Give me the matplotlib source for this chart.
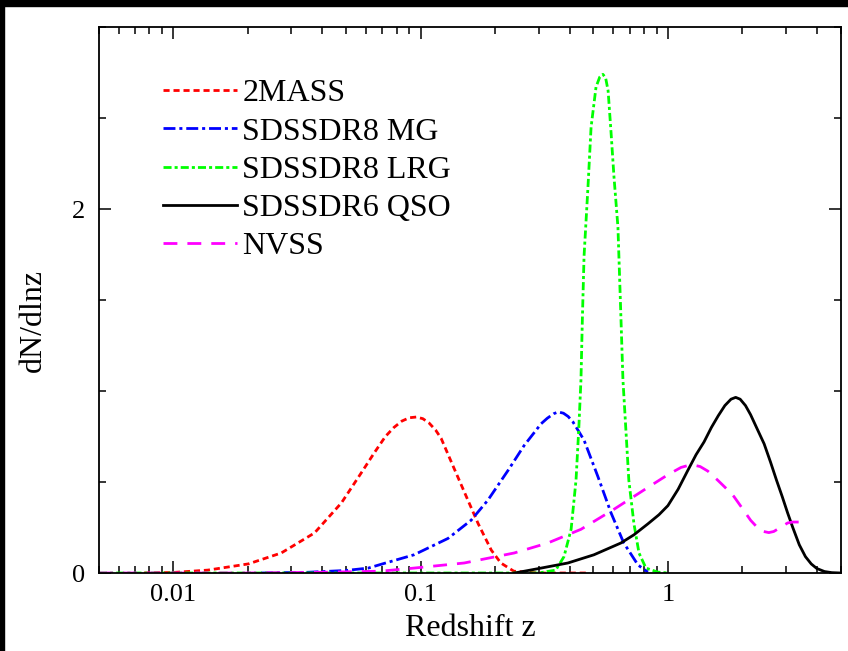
import matplotlib
matplotlib.use("Agg")
import matplotlib.pyplot as plt
from matplotlib.patches import Rectangle
from matplotlib.ticker import LogLocator, MultipleLocator, FixedLocator

plt.rcParams['font.family'] = ['Liberation Serif', 'DejaVu Serif']

# redshift distributions dN/dlnz of the tracer surveys
z_2mass = [0.0076, 0.010, 0.0138, 0.0201, 0.0273, 0.0372, 0.0478, 0.0575, 0.0649,
           0.072, 0.078, 0.084, 0.090, 0.096, 0.102, 0.108, 0.115, 0.121, 0.136,
           0.153, 0.171, 0.193, 0.211, 0.238, 0.30, 0.47]
n_2mass = [0.0, 0.003, 0.016, 0.05, 0.11, 0.22, 0.385, 0.55, 0.66,
           0.75, 0.80, 0.835, 0.853, 0.857, 0.848, 0.825, 0.785, 0.74, 0.58,
           0.42, 0.27, 0.126, 0.055, 0.01, 0.0, 0.0]

z_mg = [0.0226, 0.035, 0.050, 0.0614, 0.0713, 0.094, 0.129, 0.160, 0.187, 0.226,
        0.262, 0.307, 0.325, 0.345, 0.360, 0.378, 0.395, 0.413, 0.458, 0.521,
        0.589, 0.663, 0.757, 0.83]
n_mg = [0.0, 0.004, 0.014, 0.027, 0.053, 0.10, 0.19, 0.29, 0.40, 0.565,
        0.70, 0.82, 0.85, 0.875, 0.885, 0.878, 0.86, 0.83, 0.73, 0.53,
        0.33, 0.165, 0.044, 0.005]

z_lrg = [0.005, 0.30, 0.352, 0.380, 0.406, 0.425, 0.436, 0.445, 0.451, 0.458,
         0.475, 0.489, 0.512, 0.530, 0.546, 0.560, 0.573, 0.589, 0.605, 0.628,
         0.643, 0.658, 0.676, 0.695, 0.729, 0.764, 0.815, 0.91, 1.0]
n_lrg = [0.0, 0.0, 0.016, 0.09, 0.24, 0.51, 0.79, 1.06, 1.40, 1.74,
         2.12, 2.45, 2.67, 2.725, 2.74, 2.72, 2.65, 2.42, 2.18, 1.90,
         1.48, 1.06, 0.79, 0.51, 0.27, 0.11, 0.027, 0.005, 0.0]

z_qso = [0.24, 0.307, 0.394, 0.502, 0.646, 0.729, 0.830, 0.92, 1.0, 1.10,
         1.20, 1.30, 1.40, 1.50, 1.60, 1.70, 1.80, 1.88, 1.96, 2.06,
         2.16, 2.30, 2.45, 2.60, 2.75, 2.90, 3.05, 3.20, 3.40, 3.60,
         3.80, 4.0, 4.3, 4.6, 5.0]
n_qso = [0.0, 0.027, 0.055, 0.10, 0.165, 0.21, 0.27, 0.32, 0.37, 0.46,
         0.56, 0.65, 0.72, 0.80, 0.865, 0.92, 0.955, 0.965, 0.955, 0.92,
         0.87, 0.79, 0.71, 0.61, 0.51, 0.42, 0.33, 0.25, 0.155, 0.09,
         0.05, 0.025, 0.008, 0.002, 0.0]

z_nvss = [0.005, 0.02, 0.04, 0.069, 0.094, 0.150, 0.239, 0.327, 0.445, 0.605,
          0.83, 1.0, 1.13, 1.20, 1.27, 1.35, 1.45, 1.59, 1.75, 1.85,
          2.0, 2.16, 2.30, 2.44, 2.56, 2.68, 2.85, 3.05, 3.20, 3.38]
n_nvss = [0.0, 0.0, 0.004, 0.01, 0.027, 0.055, 0.11, 0.165, 0.24, 0.35,
          0.47, 0.54, 0.58, 0.59, 0.593, 0.585, 0.56, 0.51, 0.455, 0.42,
          0.355, 0.29, 0.25, 0.228, 0.222, 0.228, 0.25, 0.275, 0.28, 0.28]

fig = plt.figure(figsize=(8.48, 6.51), dpi=100)
ax = fig.add_axes([99 / 848, 78 / 651, 741.7 / 848, 546 / 651])

lw = 2.0
ax.plot(z_2mass, n_2mass, color='#ff0000', lw=lw, ls=(0, (2.2, 1.4)), label='2MASS')
ax.plot(z_mg, n_mg, color='#0000ff', lw=lw, ls=(0, (4.3, 1.4, 1.1, 1.4)), label='SDSSDR8 MG')
ax.plot(z_lrg, n_lrg, color='#00ff00', lw=lw, ls=(0, (2.9, 1.1, 1.1, 1.1)), label='SDSSDR8 LRG')
ax.plot(z_qso, n_qso, color='black', lw=lw, label='SDSSDR6 QSO')
ax.plot(z_nvss, n_nvss, color='#ff00ff', lw=lw, ls=(0, (5.0, 3.6)), label='NVSS')

ax.set_xscale('log')
ax.set_xlim(0.005, 5)
ax.set_ylim(0, 3)
ax.xaxis.set_major_locator(FixedLocator([0.01, 0.1, 1]))
ax.xaxis.set_major_formatter(plt.FixedFormatter(['0.01', '0.1', '1']))
ax.xaxis.set_minor_locator(LogLocator(base=10, subs=range(2, 10)))
ax.xaxis.set_minor_formatter(plt.NullFormatter())
ax.yaxis.set_major_locator(MultipleLocator(2))
ax.yaxis.set_minor_locator(MultipleLocator(0.5))

ax.tick_params(which='both', direction='in', top=True, right=True, width=1.1, labelsize=19)
ax.tick_params(which='major', length=8.5, pad=8)
ax.tick_params(axis='y', which='major', pad=10)
ax.tick_params(which='minor', length=5)
for s in ax.spines.values():
    s.set_linewidth(1.3)

ax.set_xlabel('Redshift z', fontsize=23, labelpad=6)
ax.set_ylabel('dN/dlnz', fontsize=23)
ax.yaxis.set_label_coords(-0.069, 0.463)

ax.legend(loc='upper left', bbox_to_anchor=(0.086, 0.905), frameon=False, fontsize=23,
          handlelength=2.32, handletextpad=0.17, labelspacing=0.28, borderpad=0,
          borderaxespad=0)

# dark border along the top and left edges
fig.patches.append(Rectangle((0, 1 - 6 / 651), 1, 6 / 651, transform=fig.transFigure,
                             color='black', zorder=10))
fig.patches.append(Rectangle((0, 0), 4 / 848, 1, transform=fig.transFigure,
                             color='black', zorder=10))

fig.savefig('out.png', dpi=100)
